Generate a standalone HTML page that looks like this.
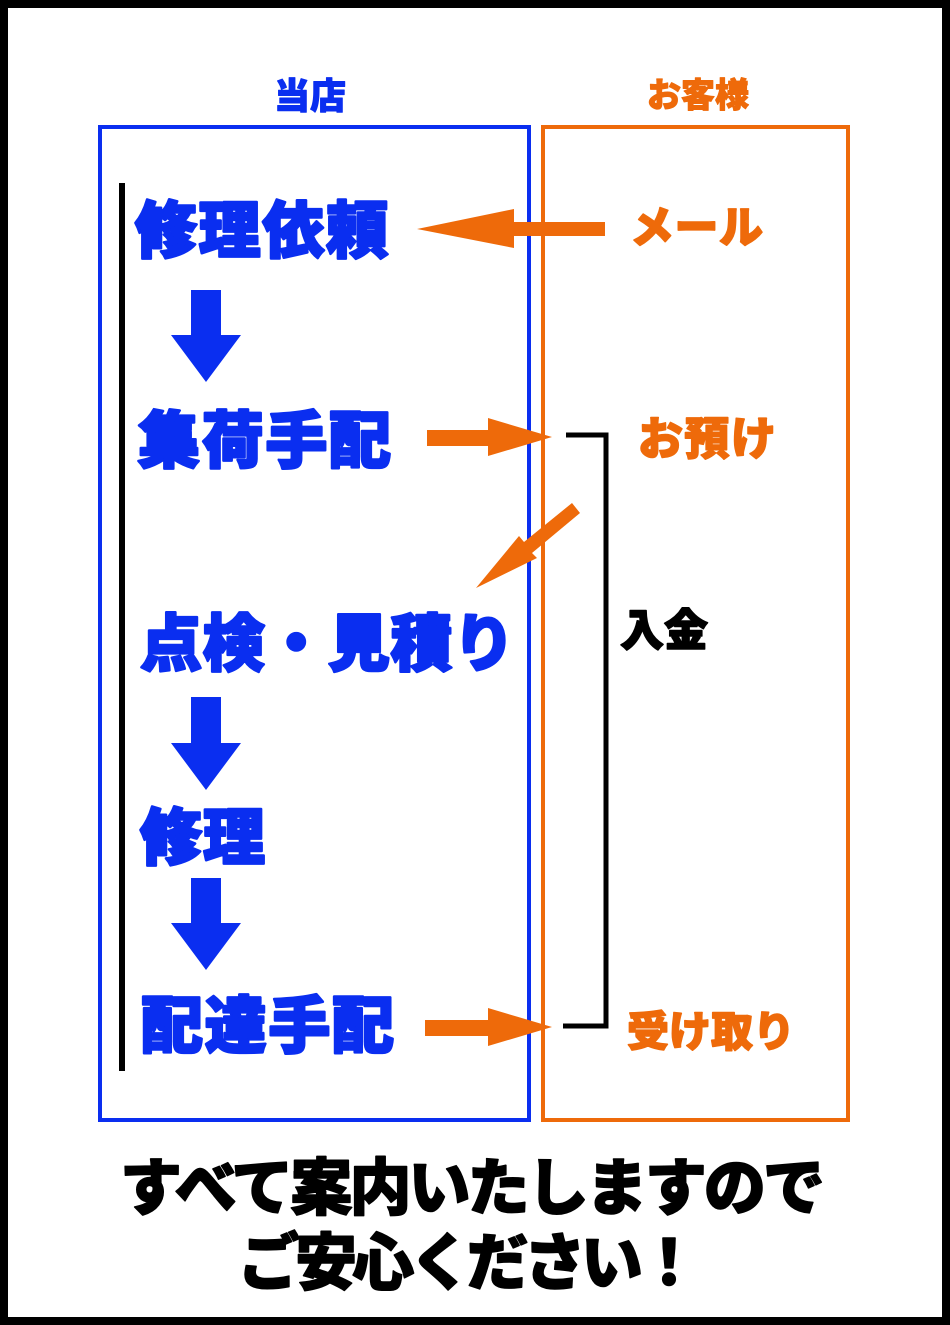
<!DOCTYPE html>
<html><head><meta charset="utf-8"><style>
html,body{margin:0;padding:0;background:#fff}
svg{display:block}
text{font-family:"Liberation Sans","Noto Sans CJK JP",sans-serif;font-weight:900}
.b{fill:#0a2ef0;stroke:#0a2ef0;stroke-width:2.5;stroke-linejoin:round}
.o{fill:#ee6a0a;stroke:#ee6a0a;stroke-width:1.5;stroke-linejoin:round}
.k{fill:#000;stroke:#000;stroke-width:1.5;stroke-linejoin:round}
</style></head><body>
<svg width="950" height="1325" viewBox="0 0 950 1325">
<rect x="4" y="4" width="942" height="1317" fill="#fff" stroke="#000" stroke-width="8"/>
<rect x="100" y="127" width="429" height="993" fill="none" stroke="#0a2ef0" stroke-width="4"/>
<rect x="543" y="127" width="305" height="993" fill="none" stroke="#ee6a0a" stroke-width="4"/>
<text x="310" y="96" dominant-baseline="central" text-anchor="middle" font-size="36" class="b" style="stroke-width:1">当店</text>
<text x="698" y="96" dominant-baseline="central" text-anchor="middle" font-size="34" class="o" style="stroke-width:1">お客様</text>
<rect x="119" y="183" width="6" height="888" fill="#000"/>
<text x="135" y="232" dominant-baseline="central" font-size="62" class="b" textLength="253">修理依頼</text>
<text x="138" y="442" dominant-baseline="central" font-size="62" class="b" textLength="253">集荷手配</text>
<text x="140" y="645" dominant-baseline="central" font-size="62" class="b" textLength="375">点検・見積り</text>
<text x="140" y="839" dominant-baseline="central" font-size="62" class="b" textLength="125">修理</text>
<text x="141" y="1027" dominant-baseline="central" font-size="62" class="b" textLength="253">配達手配</text>
<g fill="#0a2ef0">
<polygon points="191,290 221,290 221,335 241,335 206,382 171,335 191,335"/>
<polygon points="191,697 221,697 221,743 241,743 206,790 171,743 191,743"/>
<polygon points="191,878 221,878 221,923 241,923 206,970 171,923 191,923"/>
</g>
<g fill="#ee6a0a">
<polygon points="605,222 605,236 514,236 514,248 417,229 514,209 514,222"/>
<polygon points="427,430 488,430 488,418 552,437 488,456 488,446 427,446"/>
<polygon points="425,1020 488,1020 488,1008 552,1027 488,1046 488,1036 425,1036"/>
<polygon points="572,503 580,513 532,553 537,558 476,588 519,536 524,542"/>
</g>
<polyline points="566,435 606,435 606,1026 563,1026" fill="none" stroke="#000" stroke-width="5"/>
<text x="630" y="228" dominant-baseline="central" font-size="44" class="o" textLength="133">メール</text>
<text x="638" y="439" dominant-baseline="central" font-size="45" class="o" textLength="138">お預け</text>
<text x="627" y="1032" dominant-baseline="central" font-size="42" class="o" textLength="168">受け取り</text>
<text x="620" y="631" dominant-baseline="central" font-size="44" class="k" textLength="88">入金</text>
<text x="120" y="1189" dominant-baseline="central" font-size="62" class="k" textLength="705">すべて案内いたしますので</text>
<text x="238" y="1264" dominant-baseline="central" font-size="62" class="k" textLength="462">ご安心ください！</text>
</svg>
</body></html>
